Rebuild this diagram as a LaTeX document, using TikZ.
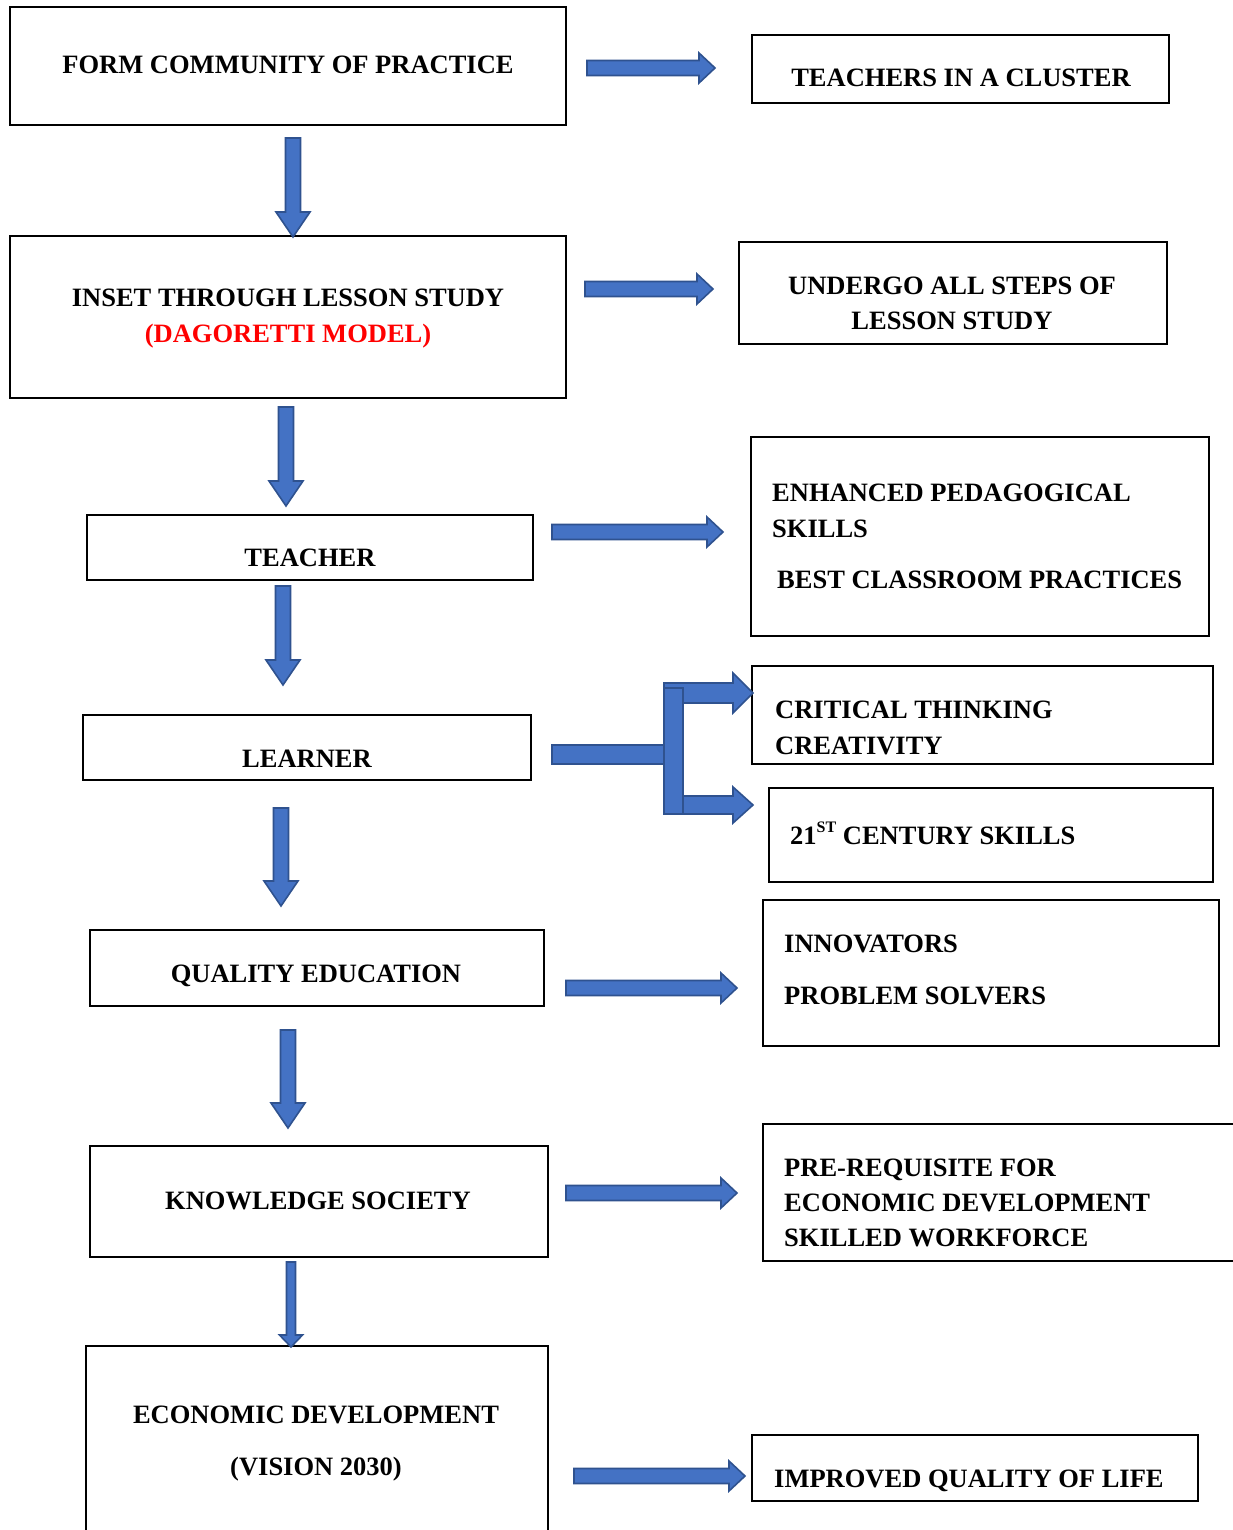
\documentclass[tikz,border=0pt]{standalone}
\usepackage{fontspec}
\setmainfont{Liberation Serif}
\usetikzlibrary{calc}
\definecolor{arrfill}{HTML}{4472C4}
\definecolor{arrline}{HTML}{2F528F}
\definecolor{redtxt}{HTML}{FF0000}
\tikzset{
  box/.style={draw=black, line width=2pt, inner sep=0pt, fill=none},
  txt/.style={inner sep=0pt, font=\fontsize{26.5}{32}\selectfont\bfseries},
  barrow/.style={fill=arrfill, draw=arrline, line width=1.6pt, line join=miter},
}
% box: name, x1, y1, x2, y2
\newcommand\bx[5]{\node[box, minimum width={(#4-#2)*1pt}, minimum height={(#5-#3)*1pt}] (#1) at ({(#2+#4)/2},{(#3+#5)/2}) {};}
% horizontal block arrow: x1, x2, y, half shaft, half head, head length
\newcommand\harr[6]{\draw[barrow] (#1,{#3-#4}) -- ({#2-#6},{#3-#4}) -- ({#2-#6},{#3-#5}) -- (#2,#3) -- ({#2-#6},{#3+#5}) -- ({#2-#6},{#3+#4}) -- (#1,{#3+#4}) -- cycle;}
% vertical block arrow: x, y1, y2, half shaft, half head, head length
\newcommand\varr[6]{\draw[barrow] ({#1-#4},#2) -- ({#1-#4},{#3-#6}) -- ({#1-#5},{#3-#6}) -- (#1,#3) -- ({#1+#5},{#3-#6}) -- ({#1+#4},{#3-#6}) -- ({#1+#4},#2) -- cycle;}
\begin{document}
\begin{tikzpicture}[x=1pt,y=-1pt]
\useasboundingbox (0,0) rectangle (1233,1530);
\clip (0,0) rectangle (1233,1530);
\fill[white] (0,0) rectangle (1233,1530);

% boxes
\bx{b1}{10}{7}{566}{125}
\bx{b2}{752}{35}{1169}{103}
\bx{b3}{10}{236}{566}{398}
\bx{b4}{739}{242}{1167}{344}
\bx{b5}{87}{515}{533}{580}
\bx{b6}{751}{437}{1209}{636}
\bx{b7}{83}{715}{531}{780}
\bx{b8}{752}{666}{1213}{764}
\bx{b9}{769}{788}{1213}{882}
\bx{b10}{90}{930}{544}{1006}
\bx{b11}{763}{900}{1219}{1046}
\bx{b12}{90}{1146}{548}{1257}
\bx{b13}{763}{1124}{1250}{1261}
\bx{b14}{86}{1346}{548}{1550}
\bx{b15}{752}{1435}{1198}{1501}

% texts (centred)
\node[txt, anchor=base] (t1) at (288,74) {FORM COMMUNITY OF PRACTICE};
\node[txt, anchor=base] (t2) at (961,87) {TEACHERS IN A CLUSTER};
\node[txt, anchor=base] (t3a) at (288,306) {INSET THROUGH LESSON STUDY};
\node[txt, anchor=base, text=redtxt] (t3b) at (288,342) {(DAGORETTI MODEL)};
\node[txt, anchor=base] (t4a) at (952,294) {UNDERGO ALL STEPS OF};
\node[txt, anchor=base] (t4b) at (952,329) {LESSON STUDY};
\node[txt, anchor=base] (t5) at (310,566) {TEACHER};
\node[txt, anchor=base] (t7) at (307,767) {LEARNER};
\node[txt, anchor=base] (t10) at (316,982) {QUALITY EDUCATION};
\node[txt, anchor=base] (t12) at (318,1209) {KNOWLEDGE SOCIETY};
\node[txt, anchor=base] (t14a) at (316,1423) {ECONOMIC DEVELOPMENT};
\node[txt, anchor=base] (t14b) at (316,1475) {(VISION 2030)};

% texts (left aligned)
\node[txt, anchor=base west] (t6a) at (772,501) {ENHANCED PEDAGOGICAL};
\node[txt, anchor=base west] (t6b) at (772,537) {SKILLS};
\node[txt, anchor=base west] (t6c) at (777,588) {BEST CLASSROOM PRACTICES};
\node[txt, anchor=base west] (t8a) at (775,718) {CRITICAL THINKING};
\node[txt, anchor=base west] (t8b) at (775,754) {CREATIVITY};
\node[txt, anchor=base west] (t9) at (790,844) {21\raisebox{0.42em}{\fontsize{16}{16}\selectfont ST} CENTURY SKILLS};
\node[txt, anchor=base west] (t11a) at (784,952) {INNOVATORS};
\node[txt, anchor=base west] (t11b) at (784,1004) {PROBLEM SOLVERS};
\node[txt, anchor=base west] (t13a) at (784,1176) {PRE-REQUISITE FOR};
\node[txt, anchor=base west] (t13b) at (784,1211) {ECONOMIC DEVELOPMENT};
\node[txt, anchor=base west] (t13c) at (784,1246) {SKILLED WORKFORCE};
\node[txt, anchor=base west] (t15) at (774,1487) {IMPROVED QUALITY OF LIFE};

% horizontal arrows
\harr{587}{715}{68}{7.5}{15}{16}
\harr{585}{713}{289}{7.5}{15}{16}
\harr{552}{723}{532}{7.5}{15}{16}
\harr{566}{737}{988}{7.5}{15}{16}
\harr{566}{737}{1193}{7.5}{15}{16}
\harr{574}{745}{1476}{7.5}{15}{16}

% vertical arrows
\varr{293}{138}{237}{7.5}{17}{25}
\varr{286}{407}{506}{7.5}{17}{25}
\varr{283}{586}{685}{7.5}{17}{25}
\varr{281}{808}{906}{7.5}{17}{25}
\varr{288}{1030}{1128}{7.5}{17}{25}
\varr{291}{1262}{1347}{4.5}{11.5}{12}

% branching arrow at LEARNER
\draw[barrow] (552,745) rectangle (664,764);
\harr{664}{753}{693}{10}{20}{20}
\harr{673}{753}{805}{9}{18}{20}
\draw[barrow] (664,688) rectangle (683,814);
\end{tikzpicture}
\end{document}
